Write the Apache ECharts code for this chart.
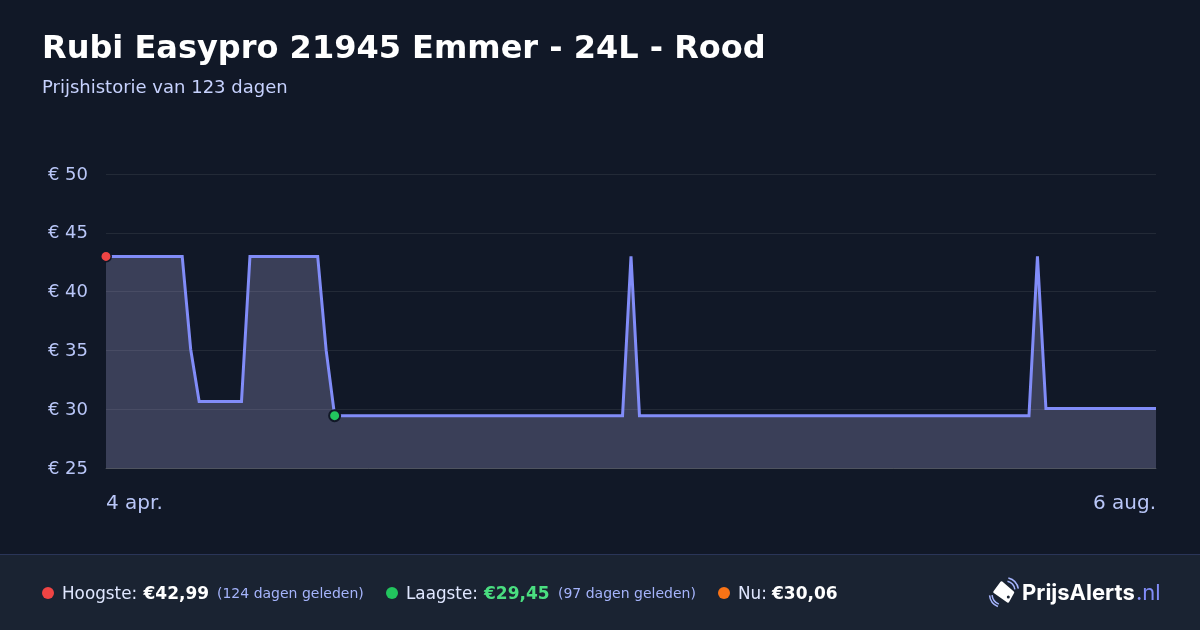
<!DOCTYPE html>
<html><head><meta charset="utf-8">
<style>html,body{margin:0;padding:0;background:#111827}#c{width:1200px;height:630px}</style>
<script src="https://cdn.jsdelivr.net/npm/echarts@6/dist/echarts.min.js"></script>
</head><body><div id="c"></div>
<script>
const titleText = 'Rubi Easypro 21945 Emmer - 24L - Rood';
const subtitleText = 'Prijshistorie van 123 dagen';
const firstDateLabel = '4 apr.';
const lastDateLabel = '6 aug.';
const priceValues = [
 42.99,42.99,42.99,42.99,42.99,42.99,42.99,42.99,42.99,42.99,
 35.1,30.65,30.65,30.65,30.65,30.65,30.65,42.99,42.99,42.99,
 42.99,42.99,42.99,42.99,42.99,42.99,35,29.45,29.45,29.45,
 29.45,29.45,29.45,29.45,29.45,29.45,29.45,29.45,29.45,29.45,
 29.45,29.45,29.45,29.45,29.45,29.45,29.45,29.45,29.45,29.45,
 29.45,29.45,29.45,29.45,29.45,29.45,29.45,29.45,29.45,29.45,
 29.45,29.45,42.99,29.45,29.45,29.45,29.45,29.45,29.45,29.45,
 29.45,29.45,29.45,29.45,29.45,29.45,29.45,29.45,29.45,29.45,
 29.45,29.45,29.45,29.45,29.45,29.45,29.45,29.45,29.45,29.45,
 29.45,29.45,29.45,29.45,29.45,29.45,29.45,29.45,29.45,29.45,
 29.45,29.45,29.45,29.45,29.45,29.45,29.45,29.45,29.45,29.45,
 42.99,30.06,30.06,30.06,30.06,30.06,30.06,30.06,30.06,30.06,
 30.06,30.06,30.06,30.06,30.06
];
const dayIndex = priceValues.map((_, i) => i);
const highPoint = [[0, 42.99]];
const lowPoint = [[27, 29.45]];
const yTicks = [25, 30, 35, 40, 45, 50];

const font = '"DejaVu Sans", sans-serif';
const chart = echarts.init(document.getElementById('c'), null, {renderer:'canvas', width:1200, height:630});

function wave(cx,cy,r,a0,a1){
  return {type:'arc',z:5,shape:{cx,cy,r,startAngle:a0,endAngle:a1,clockwise:true},style:{fill:'none',stroke:'#a5b4fc',lineWidth:1.5}};
}
const logoGraphic = [
  {type:'polygon',z:5,shape:{points:[[1001.5,582.5],[1013,592.5],[1008,601.5],[994.5,592]]},style:{fill:'#ffffff',stroke:'#ffffff',lineWidth:2.5,lineJoin:'round'}},
  {type:'circle',z:6,shape:{cx:1008.3,cy:597,r:1.5},style:{fill:'#1a2332'}},
  wave(1005,591,10,-1.32,-0.17),
  wave(1005,591,13.5,-1.32,-0.17),
  wave(1003,594,11,1.96,3.04),
  wave(1003,594,13.5,1.96,3.04)
];

function txt(x,y,text,size,color,weight,align,family){
  return {type:'text',x,y,z:5,style:{text,fontSize:size,fill:color,fontWeight:weight||'normal',fontFamily:family||font,align:align||'left',verticalAlign:'middle'}};
}
function dot(cx,color){return {type:'circle',z:5,shape:{cx,cy:593,r:6},style:{fill:color}};}

chart.setOption({
  animation:false,
  backgroundColor:'#111827',
  grid:{left:106,right:44,top:174,bottom:162,containLabel:false},
  xAxis:{
    type:'category',boundaryGap:false,data:dayIndex,
    axisLine:{show:true,lineStyle:{color:'rgba(255,255,255,0.2)',width:1}},
    axisTick:{show:false},splitLine:{show:false},
    axisLabel:{
      color:'#b9c6f8',fontSize:20,fontFamily:font,margin:26,
      interval:(i)=> i===0 || i===priceValues.length-1,
      alignMinLabel:'left',alignMaxLabel:'right',
      formatter:(v,i)=> Number(v)===0?firstDateLabel:lastDateLabel
    }
  },
  yAxis:{
    type:'value',min:yTicks[0],max:yTicks[yTicks.length-1],interval:5,
    axisLine:{show:false},axisTick:{show:false},
    splitLine:{lineStyle:{color:'rgba(255,255,255,0.08)',width:1}},
    axisLabel:{color:'#b9c6f8',fontSize:18,fontFamily:font,margin:18,verticalAlign:'top',lineHeight:2,formatter:v=>'€ '+v}
  },
  series:[
    {type:'line',data:priceValues,showSymbol:false,symbol:'none',smooth:false,z:2,
     lineStyle:{color:'#818cf8',width:3,join:'miter'},
     areaStyle:{color:'rgba(185,180,236,0.25)',opacity:1}},
    {type:'scatter',data:highPoint,symbolSize:10.5,z:4,clip:false,itemStyle:{opacity:1,color:'#ef4444',borderColor:'#111827',borderWidth:1.5}},
    {type:'scatter',data:lowPoint,symbolSize:11,z:4,clip:false,itemStyle:{opacity:1,color:'#22c55e',borderColor:'#111827',borderWidth:2}}
  ],
  graphic:[
    {type:'rect',z:1,shape:{x:0,y:555,width:1200,height:75},style:{fill:'#1a2332'}},
    {type:'rect',z:1,shape:{x:0,y:554,width:1200,height:1},style:{fill:'#2a3558'}},
    txt(42,50,titleText,32,'#ffffff','bold'),
    txt(42,88,subtitleText,18,'#c7d2fe'),
    dot(48,'#ef4444'),
    txt(62,594.5,'Hoogste:',16.8,'#e0e7ff'),
    txt(143.5,594.5,'€42,99',17,'#ffffff','bold'),
    txt(217,594,'(124 dagen geleden)',14,'#a5b4fc'),
    dot(392,'#22c55e'),
    txt(406,594.5,'Laagste:',16.8,'#e0e7ff'),
    txt(484,594.5,'€29,45',17,'#4ade80','bold'),
    txt(558,594,'(97 dagen geleden)',14,'#a5b4fc'),
    dot(724,'#f97316'),
    txt(738,594.5,'Nu:',16.8,'#e0e7ff'),
    txt(772,594.5,'€30,06',17,'#ffffff','bold'),
    ...logoGraphic,
    txt(1022,593.5,'PrijsAlerts',22,'#ffffff','bold','left','Inter'),
    txt(1136,593.5,'.nl',22,'#818cf8','normal','left','Inter')
  ]
});
</script></body></html>
